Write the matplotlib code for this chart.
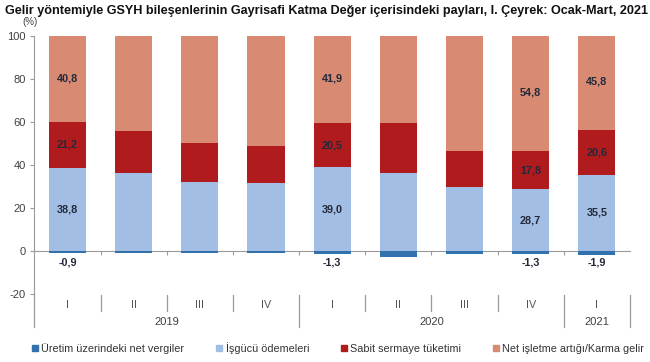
import numpy as np
import matplotlib.pyplot as plt
from matplotlib.lines import Line2D

plt.rcParams['font.family'] = ['Liberation Sans', 'DejaVu Sans']
plt.rcParams['axes.unicode_minus'] = False

# Veriler (%), çeyrekler
quarters = ['I', 'II', 'III', 'IV', 'I', 'II', 'III', 'IV', 'I']
years = ['2019', '2020', '2021']
year_span = [(0, 4), (4, 8), (8, 9)]  # hangi çeyrekler hangi yıla ait

vergi = [-0.9, -1.0, -0.8, -0.9, -1.3, -2.6, -1.2, -1.3, -1.9]
isgucu = [38.8, 36.1, 32.2, 31.5, 39.0, 36.4, 29.6, 28.7, 35.5]
sabit = [21.2, 19.7, 17.9, 17.3, 20.5, 23.0, 16.9, 17.8, 20.6]
net_isletme = [40.8, 45.1, 50.7, 52.1, 41.9, 43.2, 54.7, 54.8, 45.8]
etiketli = [True, False, False, False, True, False, False, True, True]

seriler = ['Üretim üzerindeki net vergiler', 'İşgücü ödemeleri',
           'Sabit sermaye tüketimi', 'Net işletme artığı/Karma gelir']
renkler = ['#3172AE', '#A3BEE4', '#B01C1E', '#D98A72']

vergi = np.array(vergi)
isgucu = np.array(isgucu)
sabit = np.array(sabit)
net_isletme = np.array(net_isletme)
x = np.arange(len(quarters))
w = 0.56

fig = plt.figure(figsize=(6.5, 3.62), dpi=100)
ax = fig.add_axes([34.4/650, 1-294/362, (630-34.4)/650, (294-36)/362])

ax.bar(x, vergi, w, color=renkler[0], zorder=3)
ax.bar(x, isgucu, w, color=renkler[1], zorder=2)
ax.bar(x, sabit, w, bottom=isgucu, color=renkler[2], zorder=2)
ax.bar(x, net_isletme, w, bottom=isgucu+sabit, color=renkler[3], zorder=2)

fmt = lambda v: ('%.1f' % v).replace('.', ',')
lab_kw = dict(ha='center', va='center', fontsize=7.8, fontweight='bold', color='#22293a', zorder=4)
for i in range(len(x)):
    if not etiketli[i]:
        continue
    ax.text(x[i], -5.2, fmt(vergi[i]), **lab_kw)
    ax.text(x[i], isgucu[i]/2, fmt(isgucu[i]), **lab_kw)
    ax.text(x[i], isgucu[i] + sabit[i]/2, fmt(sabit[i]), **lab_kw)
    ax.text(x[i], isgucu[i] + sabit[i] + net_isletme[i]/2, fmt(net_isletme[i]), **lab_kw)

ax.set_xlim(-0.5, len(x)-0.5)
ax.set_ylim(-20, 100)
ax.set_yticks(range(-20, 101, 20))
ax.tick_params(axis='y', direction='out', length=3, color='#9a9a9a', labelsize=8, labelcolor='#404040', pad=3)

for s in ['top', 'right']:
    ax.spines[s].set_visible(False)
ax.spines['left'].set_color('#9a9a9a')
ax.spines['bottom'].set_position(('data', 0))
ax.spines['bottom'].set_color('#9a9a9a')
ax.set_xticks(np.arange(0.5, len(x)-0.5, 1))
ax.set_xticklabels([])
ax.tick_params(axis='x', direction='out', length=3, color='#9a9a9a')

# kategori ekseni (çeyrek / yıl)
tr = ax.get_xaxis_transform()
ax.plot([-0.5, -0.5], [0, -0.128], transform=tr, color='#9a9a9a', lw=0.9, clip_on=False)
for i in range(len(x)):
    ax.text(x[i], -0.043, quarters[i], transform=tr, ha='center', va='center',
            fontsize=7.8, color='#555555')
for (a, b), yil in zip(year_span, years):
    ax.text((a + b - 1)/2, -0.109, yil, transform=tr, ha='center', va='center',
            fontsize=8, color='#404040')
    ax.plot([b-0.5, b-0.5], [-0.004, -0.128], transform=tr, color='#9a9a9a', lw=0.9, clip_on=False)
    for k in range(a+1, b):
        ax.plot([k-0.5, k-0.5], [-0.004, -0.066], transform=tr, color='#9a9a9a', lw=0.9, clip_on=False)

fig.text(0.008, 0.985, 'Gelir yöntemiyle GSYH bileşenlerinin Gayrisafi Katma Değer içerisindeki payları, I. Çeyrek: Ocak-Mart, 2021',
         ha='left', va='top', fontsize=9.1, fontweight='bold', color='#111111')
fig.text(30/650, 1-22/362, '(%)', ha='center', va='center', fontsize=7, color='#404040')

handles = [Line2D([], [], marker='s', linestyle='none', markersize=4, color=c) for c in renkler]
fig.legend(handles, seriler, loc='center', bbox_to_anchor=(0.52, 1-348/362), ncol=4, frameon=False,
           fontsize=7.8, handlelength=0.6, handletextpad=0.3, columnspacing=2.9, labelcolor='#333333')

fig.savefig('out.png', dpi=100)
